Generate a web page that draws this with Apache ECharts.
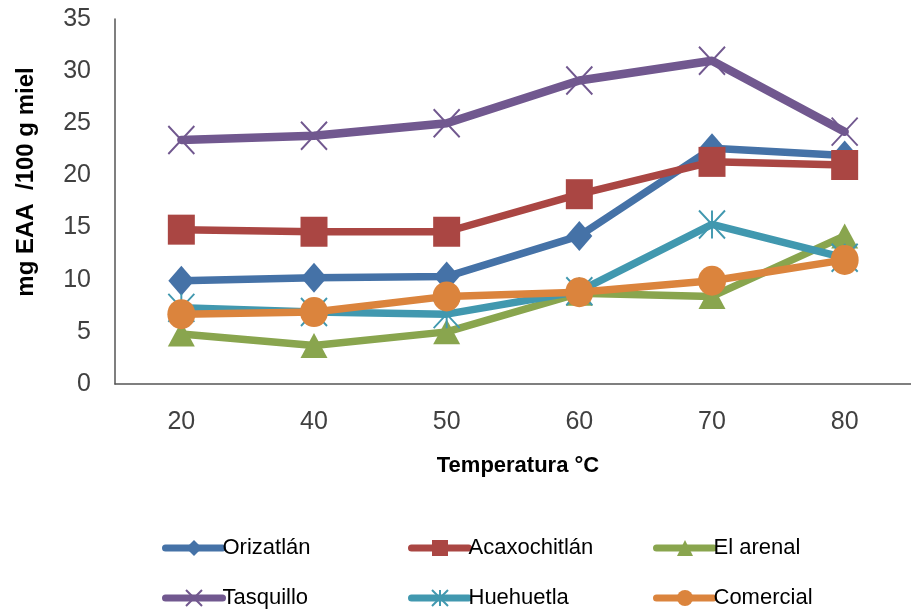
<!DOCTYPE html>
<html>
<head>
<meta charset="utf-8">
<script src="https://cdn.jsdelivr.net/npm/echarts@6/dist/echarts.min.js"></script>
<style>
  html, body { margin: 0; padding: 0; background: #fff; }
  #chart { width: 911px; height: 613px; }
</style>
</head>
<body>
<div id="chart"></div>
<script>
// Temperatures (°C) along the x axis
const categories = ['20', '40', '50', '60', '70', '80'];

// mg EAA / 100 g honey per locality
const orizatlan    = [9.9, 10.2, 10.3, 14.2, 22.6, 21.9];
const acaxochitlan = [14.8, 14.6, 14.6, 18.2, 21.3, 21.0];
const elArenal     = [4.8, 3.7, 5.0, 8.7, 8.4, 14.2];
const tasquillo    = [23.4, 23.8, 25.0, 29.1, 31.0, 24.2];
const huehuetla    = [7.3, 6.9, 6.7, 8.9, 15.3, 12.1];
const comercial    = [6.7, 6.9, 8.4, 8.8, 9.9, 11.9];

const seriesNames = ['Orizatlán', 'Acaxochitlán', 'El arenal', 'Tasquillo', 'Huehuetla', 'Comercial'];

const crossPath = 'path://M0,0L10,10M10,0L0,10';
const starPath = 'path://M0,0L10,10M10,0L0,10M5,0L5,10';

const styles = [
  { color: '#4572A7', symbol: 'diamond',   size: [26, 30], width: 7.5 },
  { color: '#AA4643', symbol: 'rect',      size: [27, 30], width: 7.5 },
  { color: '#89A54E', symbol: 'triangle',  size: [27, 25], width: 7.5 },
  { color: '#71588F', symbol: crossPath,   size: [26, 28], width: 8.5, stroke: true },
  { color: '#4198AF', symbol: starPath,    size: [26, 28], width: 7.5, stroke: true },
  { color: '#DB843D', symbol: 'circle',    size: [28, 30], width: 7.5 }
];

const dataSets = [orizatlan, acaxochitlan, elArenal, tasquillo, huehuetla, comercial];

const series = dataSets.map((values, i) => {
  const s = styles[i];
  return {
    name: seriesNames[i],
    type: 'line',
    data: values,
    symbol: s.symbol,
    symbolSize: s.size,
    showAllSymbol: true,
    lineStyle: { color: s.color, width: s.width, cap: 'round', join: 'round' },
    itemStyle: s.stroke
      ? { color: 'transparent', borderColor: s.color, borderWidth: 2 }
      : { color: s.color, borderWidth: 0 },
    emphasis: { disabled: true },
    animation: false
  };
});

// One legend per entry so the two rows of three line up in columns
const legendCols = [162, 408, 653];
const legendRows = [537, 587];
const legends = seriesNames.map((name, i) => ({
  data: [name],
  left: legendCols[i % 3],
  top: legendRows[Math.floor(i / 3)],
  padding: 0,
  itemWidth: 57,
  itemHeight: 20,
  selectedMode: false,
  lineStyle: { width: 7, cap: 'round' },
  textStyle: { fontFamily: '"Liberation Sans", Arial, sans-serif', fontSize: 22, color: '#000', padding: [0, 0, 0, -5] }
}));

const chart = echarts.init(document.getElementById('chart'), null, { renderer: 'canvas' });
chart.setOption({
  backgroundColor: '#fff',
  animation: false,
  legend: legends,
  grid: { left: 115, top: 19, width: 806, height: 365, containLabel: false },
  xAxis: {
    type: 'category',
    data: categories,
    boundaryGap: true,
    name: 'Temperatura °C',
    nameLocation: 'middle',
    nameGap: 71,
    nameTextStyle: { fontFamily: '"Liberation Sans", Arial, sans-serif', fontSize: 22, fontWeight: 'bold', color: '#000', padding: [0, 0, 0, 10] },
    axisLine: { lineStyle: { color: '#555', width: 1.5 } },
    axisTick: { show: false },
    axisLabel: { fontFamily: '"Liberation Sans", Arial, sans-serif', fontSize: 25, color: '#404040', margin: 26 }
  },
  yAxis: {
    type: 'value',
    min: 0,
    max: 35,
    interval: 5,
    name: 'mg EAA  /100 g miel',
    nameLocation: 'middle',
    nameRotate: 90,
    nameGap: 77,
    nameTextStyle: { fontFamily: '"Liberation Sans", Arial, sans-serif', fontSize: 24, fontWeight: 'bold', color: '#000', padding: [0, 0, 0, 39] },
    axisLine: { show: true, lineStyle: { color: '#555', width: 1.5 } },
    axisTick: { show: false },
    splitLine: { show: false },
    axisLabel: { fontFamily: '"Liberation Sans", Arial, sans-serif', fontSize: 25, color: '#404040', margin: 24 }
  },
  series: series
});
</script>
</body>
</html>
